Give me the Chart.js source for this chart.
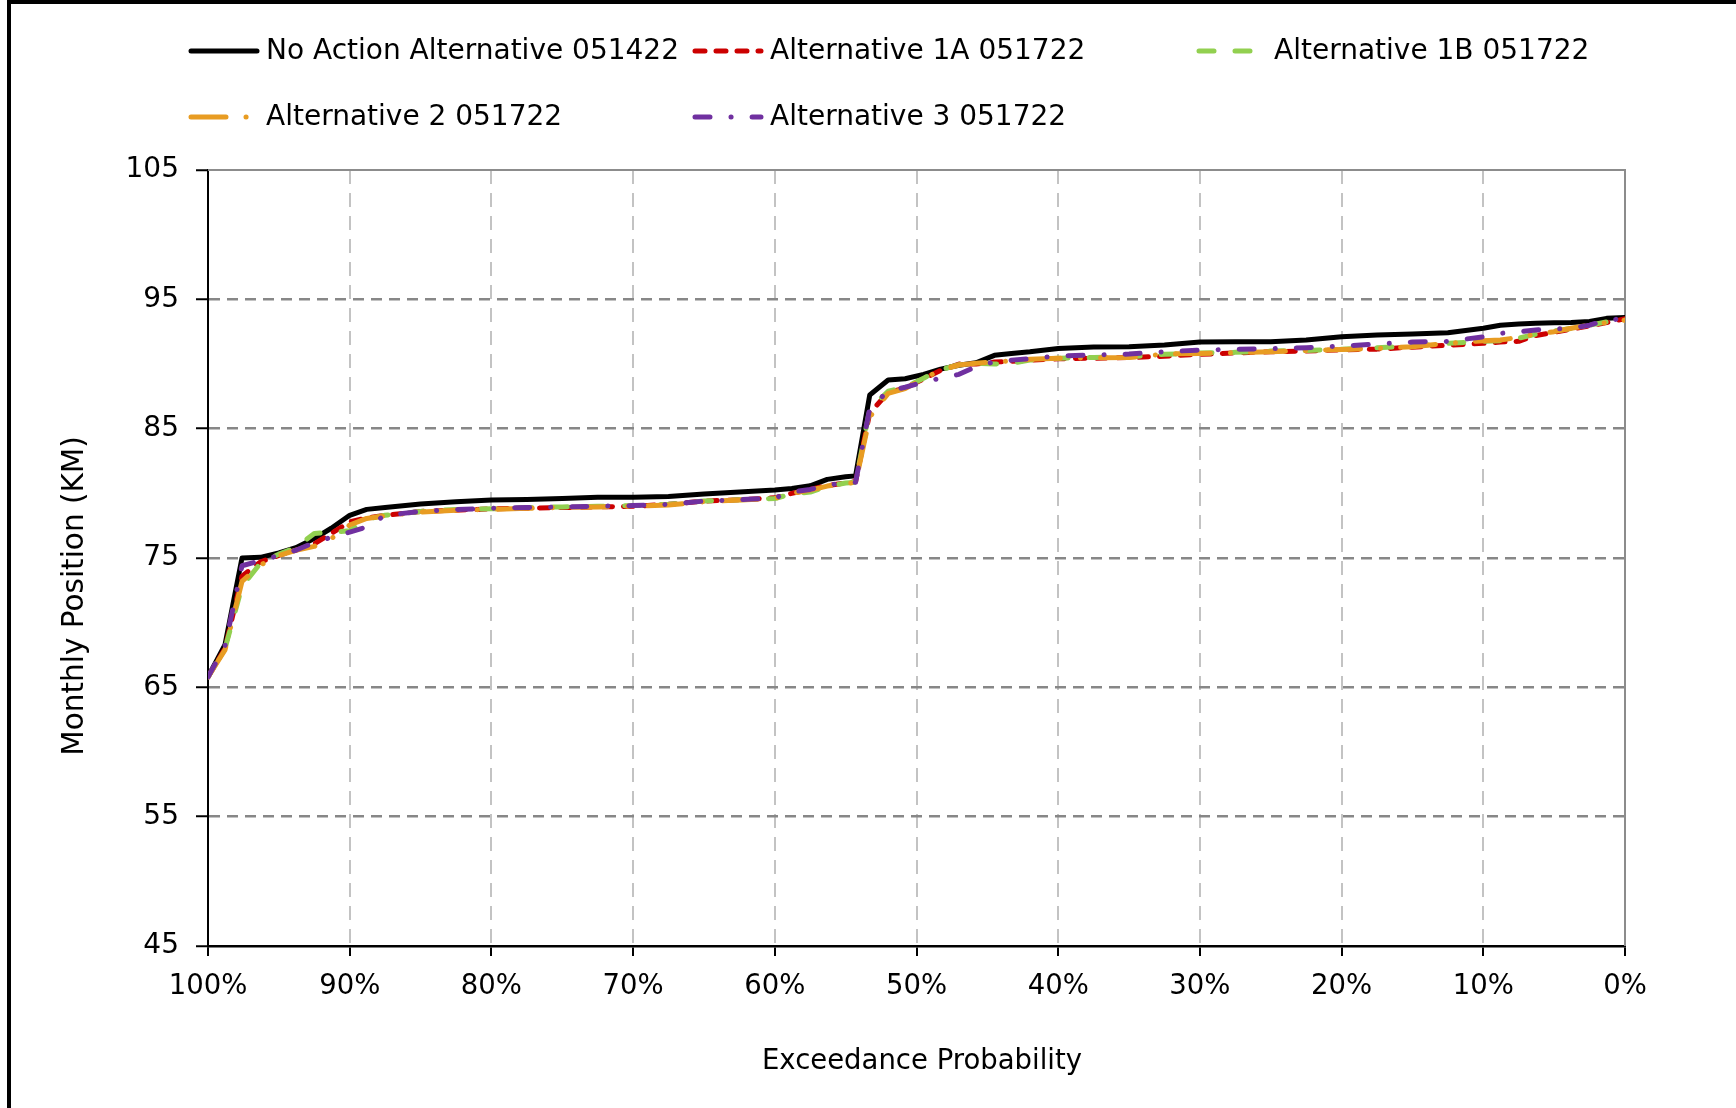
<!DOCTYPE html>
<html>
<head>
<meta charset="utf-8">
<script src="https://cdn.jsdelivr.net/npm/chart.js@4.4.1/dist/chart.umd.min.js"></script>
<style>
  html, body { margin: 0; padding: 0; background: #fff; overflow: hidden; }
  #wrap { position: relative; width: 1736px; height: 1108px; overflow: hidden; }
  #chart { position: absolute; left: 0; top: 0; }
  #frame { position: absolute; left: 7px; top: 0; width: 1800px; height: 1200px;
           border-left: 4px solid #000; border-top: 4px solid #000; pointer-events: none; }
</style>
</head>
<body>
<div id="wrap">
  <canvas id="chart" width="1736" height="1108"></canvas>
  <div id="frame"></div>
</div>
<script>
// --- Data (exceedance probability, monthly position in KM) ---
const exceedance = [1.000, 0.988, 0.976, 0.963, 0.950, 0.938, 0.925, 0.913, 0.900, 0.888,
  0.875, 0.850, 0.825, 0.800, 0.775, 0.750, 0.725, 0.700, 0.675, 0.650,
  0.625, 0.600, 0.588, 0.575, 0.563, 0.550, 0.543, 0.533, 0.520, 0.508,
  0.495, 0.483, 0.470, 0.458, 0.445, 0.433, 0.420, 0.400, 0.375, 0.350,
  0.325, 0.300, 0.275, 0.250, 0.225, 0.200, 0.175, 0.150, 0.125, 0.100,
  0.088, 0.075, 0.063, 0.050, 0.038, 0.025, 0.013, 0.000];

const noAction = [65.8, 68.3, 75.0, 75.05, 75.4, 75.8, 76.5, 77.3, 78.3, 78.76,
  78.9, 79.17, 79.35, 79.48, 79.53, 79.6, 79.7, 79.7, 79.75, 79.95,
  80.1, 80.25, 80.38, 80.58, 81.08, 81.28, 81.35, 87.6, 88.76, 88.86,
  89.2, 89.6, 89.9, 90.1, 90.67, 90.82, 90.95, 91.2, 91.31, 91.33,
  91.47, 91.7, 91.72, 91.72, 91.85, 92.1, 92.24, 92.32, 92.42, 92.76,
  93.0, 93.1, 93.15, 93.18, 93.2, 93.28, 93.53, 93.6];

const alt1A = [65.8, 68.0, 73.6, 74.7, 75.2, 75.6, 76.1, 76.9, 77.8, 78.1,
  78.3, 78.6, 78.7, 78.8, 78.85, 78.9, 78.95, 79.0, 79.15, 79.4,
  79.5, 79.65, 80.0, 80.3, 80.6, 80.8, 80.9, 86.2, 87.8, 88.15,
  88.85, 89.5, 90.0, 90.0, 90.15, 90.2, 90.3, 90.4, 90.45, 90.5,
  90.6, 90.75, 90.85, 90.95, 91.0, 91.1, 91.15, 91.3, 91.45, 91.6,
  91.7, 91.75, 92.2, 92.45, 92.7, 92.95, 93.2, 93.5];

const alt1B = [65.8, 68.0, 72.8, 74.6, 75.3, 75.8, 76.9, 77.0, 77.1, 78.0,
  78.3, 78.6, 78.75, 78.8, 78.9, 78.95, 79.0, 79.05, 79.15, 79.4,
  79.5, 79.6, 79.95, 80.1, 80.55, 80.8, 80.85, 86.5, 87.9, 88.2,
  88.9, 89.55, 89.95, 90.05, 90.0, 90.05, 90.3, 90.45, 90.5, 90.55,
  90.75, 90.85, 90.9, 91.0, 91.05, 91.15, 91.25, 91.4, 91.6, 91.75,
  91.8, 92.0, 92.3, 92.55, 92.75, 93.0, 93.25, 93.45];

const alt2 = [65.8, 67.9, 73.2, 74.45, 75.2, 75.6, 75.9, 76.5, 77.55, 78.06,
  78.26, 78.55, 78.7, 78.75, 78.84, 78.9, 78.95, 79.0, 79.1, 79.35,
  79.48, 79.6, 80.0, 80.25, 80.56, 80.77, 80.82, 85.9, 87.73, 88.1,
  88.86, 89.53, 89.92, 90.05, 90.17, 90.23, 90.36, 90.44, 90.48, 90.5,
  90.77, 90.82, 90.87, 90.95, 91.03, 91.13, 91.2, 91.33, 91.6, 91.8,
  91.85, 92.06, 92.3, 92.5, 92.76, 93.0, 93.2, 93.4];

const alt3 = [65.8, 68.2, 74.4, 74.8, 75.2, 75.6, 76.2, 76.6, 77.0, 77.4,
  78.3, 78.6, 78.75, 78.85, 78.9, 78.95, 79.0, 79.05, 79.15, 79.4,
  79.5, 79.65, 80.1, 80.3, 80.65, 80.8, 80.85, 86.6, 87.9, 88.2,
  88.6, 88.9, 89.2, 89.8, 90.17, 90.3, 90.4, 90.62, 90.7, 90.77,
  90.95, 91.08, 91.13, 91.18, 91.26, 91.39, 91.54, 91.7, 91.75, 92.1,
  92.37, 92.5, 92.63, 92.7, 92.76, 93.0, 93.4, 93.5];

const seriesLabels = ['No Action Alternative 051422', 'Alternative 1A 051722', 'Alternative 1B 051722',
  'Alternative 2 051722', 'Alternative 3 051722'];

// --- Helpers ---
const FONT = '"DejaVu Sans", Verdana, sans-serif';
const FONT_SIZE = 27.5;
const toPoints = (values) => values.map((y, i) => ({ x: exceedance[i], y }));
const near = (a, b) => Math.abs(a - b) < 1e-6;

// legend grid + axis titles, drawn straight on the canvas
const legendCols = [188, 692, 1196];
const legendRows = [51, 117];

const extrasPlugin = {
  id: 'extras',
  beforeDatasetsDraw(chart) {
    const { ctx, chartArea: a } = chart;
    ctx.save();
    ctx.strokeStyle = '#8c8c8c';
    ctx.lineWidth = 2;
    ctx.beginPath();
    ctx.moveTo(a.left, a.top);
    ctx.lineTo(a.right, a.top);
    ctx.lineTo(a.right, a.bottom);
    ctx.stroke();
    ctx.restore();
  },
  afterDraw(chart) {
    const ctx = chart.ctx;
    ctx.save();
    ctx.font = `28px ${FONT}`;
    ctx.fillStyle = '#000';
    ctx.textBaseline = 'middle';
    chart.data.datasets.forEach((ds, i) => {
      const x = legendCols[i % 3];
      const y = legendRows[Math.floor(i / 3)];
      ctx.strokeStyle = ds.borderColor;
      ctx.lineWidth = ds.borderWidth;
      ctx.lineCap = 'round';
      ctx.setLineDash(ds.borderDash || []);
      ctx.beginPath();
      ctx.moveTo(x + 3, y);
      ctx.lineTo(x + 69, y);
      ctx.stroke();
      ctx.setLineDash([]);
      ctx.textAlign = 'left';
      ctx.fillText(ds.label, x + 78, y + 1);
    });

    // axis titles
    ctx.textAlign = 'center';
    ctx.font = `${FONT_SIZE}px ${FONT}`;
    ctx.fillText('Exceedance Probability', 922, 1062);
    ctx.font = `29.5px ${FONT}`;
    ctx.translate(75, 596);
    ctx.rotate(-Math.PI / 2);
    ctx.fillText('Monthly Position (KM)', 0, 0);
    ctx.restore();
  }
};

const makeDataset = (label, values, color, width, dash, order) => ({
  label,
  data: toPoints(values),
  borderColor: color,
  backgroundColor: color,
  borderWidth: width,
  borderDash: dash,
  borderCapStyle: 'round',
  borderJoinStyle: 'round',
  pointRadius: 0,
  tension: 0,
  fill: false,
  order
});

Chart.defaults.font.family = FONT;
Chart.defaults.font.size = FONT_SIZE;
Chart.defaults.color = '#000';

new Chart(document.getElementById('chart').getContext('2d'), {
  type: 'line',
  data: {
    datasets: [
      makeDataset(seriesLabels[0], noAction, '#000000', 5, [], 5),
      makeDataset(seriesLabels[1], alt1A, '#cc0000', 5, [10, 11], 4),
      makeDataset(seriesLabels[2], alt1B, '#92d050', 5, [15, 21], 3),
      makeDataset(seriesLabels[3], alt2, '#e89c22', 5, [35, 20, 0.1, 20], 2),
      makeDataset(seriesLabels[4], alt3, '#7030a0', 5, [15, 21, 0.1, 21], 1)
    ]
  },
  options: {
    responsive: false,
    animation: false,
    layout: { padding: { top: 170, right: 111, bottom: 0, left: 0 } },
    plugins: { legend: { display: false }, tooltip: { enabled: false } },
    scales: {
      x: {
        type: 'linear',
        reverse: true,
        min: 0,
        max: 1,
        afterFit: (scale) => { scale.height = 162; },
        ticks: {
          stepSize: 0.1,
          autoSkip: false,
          maxRotation: 0,
          padding: 14,
          callback: (v) => Math.round(v * 100) + '%'
        },
        grid: {
          color: (c) => (c.tick && (near(c.tick.value, 0) || near(c.tick.value, 1))) ? 'rgba(0,0,0,0)' : '#c3c3c3',
          lineWidth: 2,
          tickLength: 10,
          tickColor: '#000',
          tickWidth: 2,
          tickBorderDash: []
        },
        border: { display: true, color: '#000', width: 2.5, dash: [14, 9] }
      },
      y: {
        min: 45,
        max: 105,
        afterFit: (scale) => { scale.width = 208; },
        ticks: { stepSize: 10, padding: 17, font: { size: 28 } },
        grid: {
          color: (c) => (c.tick && (c.tick.value === 45 || c.tick.value === 105)) ? 'rgba(0,0,0,0)' : '#878787',
          lineWidth: 2.5,
          tickLength: 12,
          tickColor: '#000',
          tickWidth: 2,
          tickBorderDash: []
        },
        border: { display: true, color: '#000', width: 2, dash: [11, 7] }
      }
    }
  },
  plugins: [extrasPlugin]
});
</script>
</body>
</html>
